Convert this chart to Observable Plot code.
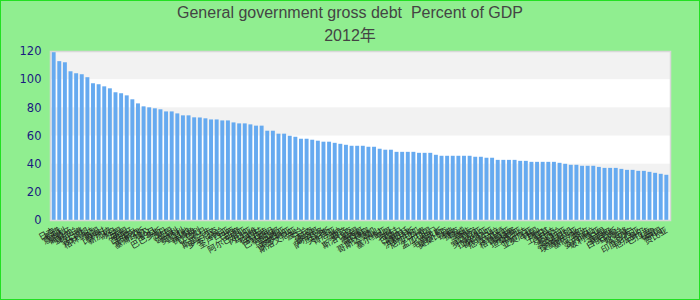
<!DOCTYPE html>
<html>
<head>
<meta charset="utf-8">
<script src="https://cdn.jsdelivr.net/npm/d3@7"></script>
<script src="https://cdn.jsdelivr.net/npm/@observablehq/plot@0.6"></script>
<style>
  html, body { margin: 0; padding: 0; background: #fff; }
  #chart {
    position: relative; width: 700px; height: 300px; box-sizing: border-box;
    border: 1px solid #22e022; background: #90ee90; overflow: hidden;
    font-family: "Liberation Sans", Arial, sans-serif;
  }
  .t1, .t2 {
    position: absolute; left: 0; width: 698px; text-align: center; color: #444;
    font-size: 16px; line-height: 20px; z-index: 2;
  }
  .t1 { top: 2px; }
  .t2 { top: 25px; font-family: "Liberation Sans", "Noto Sans CJK SC", sans-serif; }
  #plot { position: absolute; left: 0; top: 0; }
</style>
</head>
<body>
<div id="chart">
  <div class="t1">General government gross debt&nbsp; Percent of GDP</div>
  <div class="t2">2012年</div>
  <div id="plot"></div>
</div>
<script>
const countries = [
  "日本","希腊","意大利","葡萄牙","爱尔兰","黎巴嫩","牙买加","格林纳达","美国","比利时",
  "新加坡","冰岛","法国","英国","西班牙","加拿大","塞浦路斯","埃及","约旦","巴巴多斯",
  "苏丹","德国","匈牙利","奥地利","马耳他","佛得角","以色列","不丹","斯里兰卡","多米尼克",
  "荷兰","圣卢西亚","巴西","印度","阿尔巴尼亚","冈比亚","马拉维","伯利兹","乌拉圭","巴基斯坦",
  "圭亚那","马来西亚","克罗地亚","斯洛文尼亚","波兰","芬兰","越南","摩洛哥","萨尔瓦多","突尼斯",
  "肯尼亚","加纳","斐济","斯洛伐克","泰国","墨西哥","菲律宾","哥斯达黎加","黑山","塞尔维亚",
  "多哥","老挝","巴拿马","阿根廷","洪都拉斯","尼加拉瓜","丹麦","孟加拉国","也门","毛里求斯",
  "莫桑比克","瑞典","捷克","挪威","南非","立陶宛","罗马尼亚","拉脱维亚","哥伦比亚","危地马拉",
  "马其顿","格鲁吉亚","柬埔寨","坦桑尼亚","乌干达","亚美尼亚","韩国","瑞士","土耳其","卢旺达",
  "新西兰","澳大利亚","多米尼加","埃塞俄比亚","塞内加尔","蒙古","委内瑞拉","玻利维亚","马里","塞舌尔",
  "白俄罗斯","乌克兰","喀麦隆","贝宁","印度尼西亚","厄瓜多尔","巴拉圭","秘鲁","中国","赞比亚"
];
const debt = [
  120,112.8,112.0,105.6,104.2,103.5,101.4,97.1,96.4,94.9,
  93.5,90.7,90.0,88.5,85.7,82.8,80.7,80.0,79.3,78.6,
  77.1,77.1,75.7,74.3,74.3,72.9,72.8,72.2,71.4,71.4,
  70.7,70.7,69.3,68.6,68.6,67.9,67.0,67.0,63.4,63.4,
  61.3,61.3,59.8,59.1,57.7,57.7,57.0,56.3,55.6,55.6,
  54.8,54.1,53.4,52.7,52.7,52.7,52.0,52.0,50.6,49.9,
  49.9,48.4,48.4,48.4,48.4,47.7,47.7,47.7,46.3,45.6,
  45.6,45.6,45.6,45.6,45.6,44.9,44.9,44.2,44.2,42.7,
  42.7,42.7,42.7,42.0,42.0,41.3,41.3,41.3,41.3,41.3,
  40.6,39.9,39.2,39.2,38.5,38.5,38.5,37.7,37.0,37.0,
  37.0,36.3,35.6,35.6,34.9,34.9,34.2,33.5,32.8,32.1
];
const yTicks = [0, 20, 40, 60, 80, 100, 120];
const shadedBandStarts = [20, 60, 100];

const data = countries.map((c, i) => ({country: c, value: debt[i]}));

const chart = Plot.plot({
  width: 698,
  height: 298,
  marginLeft: 49,
  marginRight: 29,
  marginTop: 50,
  marginBottom: 79,
  style: {background: "transparent", overflow: "visible"},
  x: {domain: countries, padding: 0.3, label: null},
  y: {domain: [0, 120], label: null},
  marks: [
    Plot.frame({fill: "white"}),
    Plot.rect(shadedBandStarts, {y1: d => d, y2: d => d + 20, fill: "#f2f2f2"}),
    Plot.barY(data, {x: "country", y: "value", fill: "#66aaf0", clip: true}),
    Plot.frame({stroke: "#d8d8d8", strokeWidth: 1.5}),
    Plot.axisY({ticks: yTicks, tickSize: 0, tickPadding: 9, fontSize: 11.5,
      fill: "#1a1a80", fontFamily: "DejaVu Sans", label: null}),
    Plot.axisX({tickSize: 0, tickPadding: 9, tickRotate: -30, fontSize: 8.5,
      fill: "#222", fontFamily: "Noto Sans CJK SC", label: null})
  ]
});
document.getElementById("plot").appendChild(chart);
</script>
</body>
</html>
